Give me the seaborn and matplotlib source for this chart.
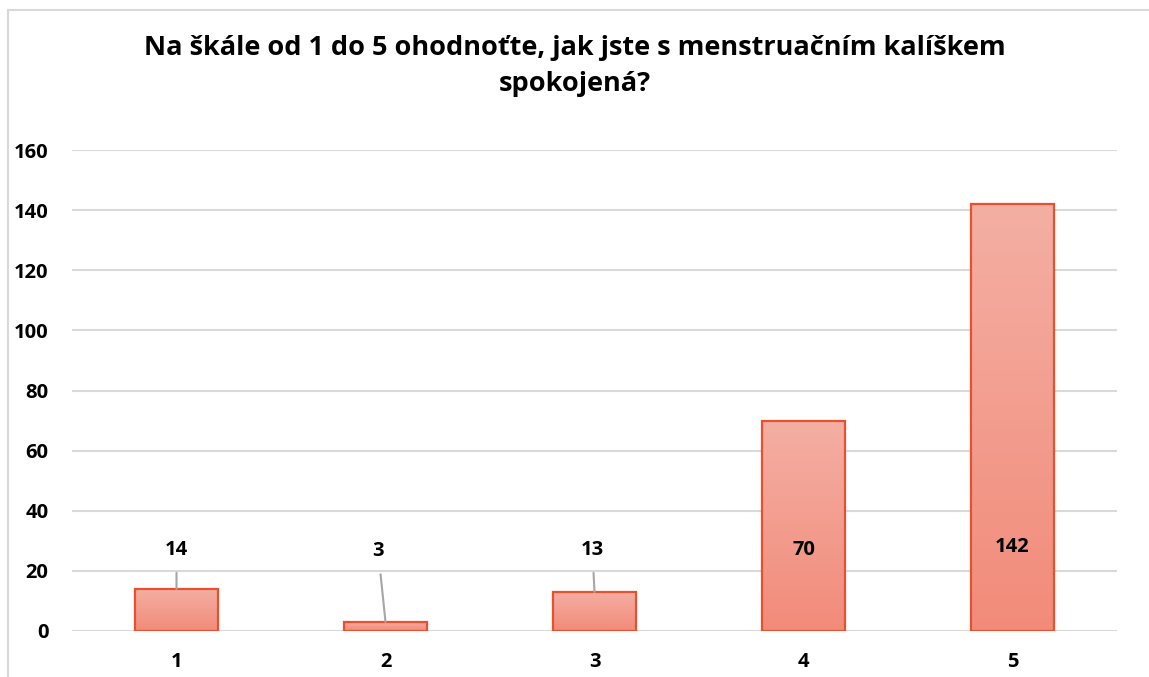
import numpy as np
import pandas as pd
import seaborn as sns
import matplotlib.pyplot as plt
from matplotlib.lines import Line2D
from matplotlib.colors import LinearSegmentedColormap

# data
kategorie = ['1', '2', '3', '4', '5']
pocty = [14, 3, 13, 70, 142]
titulek = 'Na škále od 1 do 5 ohodnoťte, jak jste s menstruačním kalíškem\nspokojená?'

df = pd.DataFrame({'hodnoceni': kategorie, 'pocet': pocty})

sns.set_style('white')
plt.rcParams['font.family'] = ['Open Sans', 'DejaVu Sans']
plt.rcParams['text.color'] = 'black'
plt.rcParams['xtick.color'] = 'black'
plt.rcParams['ytick.color'] = 'black'

fig = plt.figure(figsize=(11.49, 6.77), dpi=100)
ax = fig.add_axes([72 / 1149, 46 / 677, 1045 / 1149, 481 / 677])

sns.barplot(data=df, x='hodnoceni', y='pocet', color='#F29C8C', width=0.4,
            edgecolor='#E8502E', linewidth=1.6, ax=ax, zorder=3)

# gradient fill inside each bar
grad = np.linspace(0, 1, 256).reshape(-1, 1)
cmap = LinearSegmentedColormap.from_list('g', ['#F28B7A', '#F4AFA3'])
for p in ax.patches:
    x0, y0 = p.get_x(), p.get_y()
    w, h = p.get_width(), p.get_height()
    im = ax.imshow(grad, cmap=cmap, aspect='auto', origin='lower',
                   extent=[x0, x0 + w, y0, y0 + h], zorder=3)
    im.set_clip_path(p)
    p.set_facecolor('none')
    p.set_zorder(4)

ax.set_xlim(-0.5, 4.5)
ax.set_ylim(0, 160)
ax.set_yticks(range(0, 161, 20))
ax.yaxis.grid(True, color='#D9D9D9', linewidth=1.5, zorder=0)
ax.set_axisbelow(True)
for s in ax.spines.values():
    s.set_visible(False)
ax.tick_params(axis='both', length=0, labelsize=14.5)
ax.tick_params(axis='y', pad=17)
ax.tick_params(axis='x', pad=15)
for lbl in ax.get_xticklabels() + ax.get_yticklabels():
    lbl.set_fontweight('bold')
ax.set_xlabel('')
ax.set_ylabel('')

# data labels (small bars get a leader line)
pozice = [(0, 27), (0.965, 26.5), (1.99, 27), (3, 27), (4, 28)]
for i, (v, (lx, ly)) in enumerate(zip(pocty, pozice)):
    if v < ly - 5:
        ax.annotate(str(v), xy=(i, v), xytext=(lx, ly), ha='center', va='center',
                    fontsize=14.5, fontweight='bold', zorder=6,
                    arrowprops=dict(arrowstyle='-', color='#A6A6A6', lw=1.5,
                                    shrinkA=7, shrinkB=0))
    else:
        ax.text(lx, ly, str(v), ha='center', va='center', fontsize=14.5,
                fontweight='bold', zorder=6)

fig.text(0.5, 1 - 66 / 677, titulek, ha='center', va='center', fontsize=19.5,
         fontweight='bold', linespacing=1.5)

# chart border
fig.add_artist(Line2D([8 / 1149, 8 / 1149], [0, 1 - 10 / 677], color='#D9D9D9', lw=1.5))
fig.add_artist(Line2D([8 / 1149, 1], [1 - 10 / 677, 1 - 10 / 677], color='#D9D9D9', lw=1.5))

plt.savefig('out.png', dpi=100)
